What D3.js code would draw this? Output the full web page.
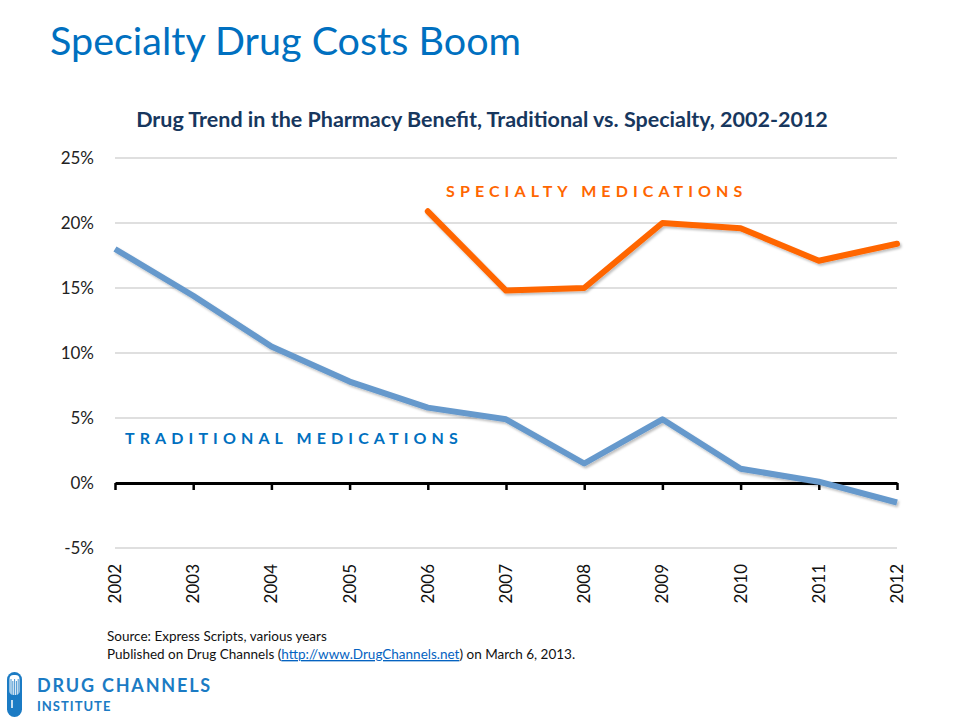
<!DOCTYPE html>
<html>
<head>
<meta charset="utf-8">
<script src="https://cdn.jsdelivr.net/npm/d3@7"></script>
<style>
  body { margin: 0; background: #fff; }
  svg { display: block; font-family: Lato, "Open Sans", sans-serif; }
</style>
</head>
<body>
<svg id="chart" width="960" height="720"></svg>
<script>
// Drug trend, traditional vs specialty (Express Scripts)
const years = [2002, 2003, 2004, 2005, 2006, 2007, 2008, 2009, 2010, 2011, 2012];
const traditional = [18.0, 14.4, 10.5, 7.8, 5.8, 4.9, 1.5, 4.9, 1.1, 0.1, -1.5];
const specialty = [null, null, null, null, 20.9, 14.8, 15.0, 20.0, 19.6, 17.1, 18.4];
const yTicks = [-5, 0, 5, 10, 15, 20, 25];

const svg = d3.select("#chart");

const x = d3.scaleLinear().domain([2002, 2012]).range([115, 897]);
const y = d3.scaleLinear().domain([-5, 25]).range([548, 158]);

// headline + chart title
svg.append("text")
  .attr("x", 50).attr("y", 55)
  .attr("fill", "#0070C0")
  .attr("font-size", "39.5px")
  .text("Specialty Drug Costs Boom");

svg.append("text")
  .attr("x", 482).attr("y", 127)
  .attr("text-anchor", "middle")
  .attr("fill", "#17375E")
  .attr("font-size", "21.5px")
  .attr("font-weight", "bold")
  .text("Drug Trend in the Pharmacy Benefit, Traditional vs. Specialty, 2002-2012");

// gridlines
svg.append("g")
  .selectAll("line")
  .data(yTicks.filter(d => d !== 0))
  .join("line")
  .attr("x1", x(2002)).attr("x2", x(2012))
  .attr("y1", d => y(d)).attr("y2", d => y(d))
  .attr("stroke", "#BFBFBF")
  .attr("stroke-width", 1);

// y labels
svg.append("g")
  .selectAll("text")
  .data(yTicks)
  .join("text")
  .attr("x", 94)
  .attr("y", d => y(d) + 6)
  .attr("text-anchor", "end")
  .attr("fill", "#222")
  .attr("font-size", "17px")
  .text(d => d + "%");

// zero axis with ticks
const xAxis = d3.axisBottom(x)
  .tickValues(years)
  .tickSize(7)
  .tickSizeOuter(0)
  .tickFormat("");
const axisG = svg.append("g")
  .attr("transform", `translate(0,${y(0)})`)
  .call(xAxis);
axisG.select(".domain").attr("stroke", "#000").attr("stroke-width", 3);
axisG.selectAll(".tick line").attr("stroke", "#000").attr("stroke-width", 2.5);

// year labels, rotated
svg.append("g")
  .selectAll("text")
  .data(years)
  .join("text")
  .attr("transform", d => `translate(${x(d) + 6},564) rotate(-90)`)
  .attr("text-anchor", "end")
  .attr("fill", "#111")
  .attr("font-size", "17px")
  .text(d => d);

// shadow filter
const defs = svg.append("defs");
const f = defs.append("filter").attr("id", "shadow")
  .attr("x", "-5%").attr("y", "-20%").attr("width", "110%").attr("height", "140%");
f.append("feDropShadow")
  .attr("dx", 1.5).attr("dy", 2).attr("stdDeviation", 1.2)
  .attr("flood-color", "#000").attr("flood-opacity", 0.25);

const line = d3.line()
  .defined(d => d[1] != null)
  .x(d => x(d[0]))
  .y(d => y(d[1]));

svg.append("path")
  .datum(years.map((yr, i) => [yr, traditional[i]]))
  .attr("d", line)
  .attr("fill", "none")
  .attr("stroke", "#6699CC")
  .attr("stroke-width", 6)
  .attr("stroke-linejoin", "round")
  .attr("filter", "url(#shadow)");

svg.append("path")
  .datum(years.map((yr, i) => [yr, specialty[i]]))
  .attr("d", line)
  .attr("fill", "none")
  .attr("stroke", "#FF6600")
  .attr("stroke-width", 6)
  .attr("stroke-linejoin", "round")
  .attr("stroke-linecap", "round")
  .attr("filter", "url(#shadow)");

// series labels
svg.append("text")
  .attr("x", 446).attr("y", 197)
  .attr("fill", "#FF6600")
  .attr("font-size", "16px")
  .attr("font-weight", "bold")
  .attr("letter-spacing", "5.1px")
  .text("SPECIALTY MEDICATIONS");

svg.append("text")
  .attr("x", 125).attr("y", 444)
  .attr("fill", "#0070C0")
  .attr("font-size", "16px")
  .attr("font-weight", "bold")
  .attr("letter-spacing", "5.1px")
  .text("TRADITIONAL MEDICATIONS");

// source notes
const note = svg.append("g").attr("font-size", "13.5px").attr("fill", "#111");
note.append("text").attr("x", 107).attr("y", 641).text("Source: Express Scripts, various years");
const t2 = note.append("text").attr("x", 107).attr("y", 659);
t2.append("tspan").text("Published on Drug Channels (");
t2.append("tspan").attr("fill", "#0563C1").attr("text-decoration", "underline")
  .text("http://www.DrugChannels.net");
t2.append("tspan").text(") on March 6, 2013.");

// logo
const logo = svg.append("g");
logo.append("rect")
  .attr("x", 7).attr("y", 672).attr("width", 15).attr("height", 45)
  .attr("rx", 7.5).attr("fill", "#1B7BC4");
logo.append("rect")
  .attr("x", 9.5).attr("y", 675).attr("width", 10).attr("height", 20)
  .attr("rx", 4).attr("fill", "#fff");
logo.append("g")
  .selectAll("line")
  .data(d3.range(5))
  .join("line")
  .attr("x1", d => 11 + d * 1.8).attr("x2", d => 11 + d * 1.8)
  .attr("y1", (d, i) => 679 + (i % 2) * 2).attr("y2", 695)
  .attr("stroke", "#1B7BC4").attr("stroke-width", 0.8);
logo.append("line")
  .attr("x1", 12).attr("x2", 12).attr("y1", 700).attr("y2", 708)
  .attr("stroke", "#fff").attr("stroke-width", 1.5);

logo.append("text")
  .attr("x", 37).attr("y", 692)
  .attr("fill", "#1B7BC4")
  .attr("font-size", "18px")
  .attr("font-weight", "bold")
  .attr("letter-spacing", "1.8px")
  .text("DRUG CHANNELS");
logo.append("text")
  .attr("x", 37).attr("y", 711)
  .attr("fill", "#1B7BC4")
  .attr("font-size", "13px")
  .attr("font-weight", "bold")
  .attr("letter-spacing", "1px")
  .text("INSTITUTE");
</script>
</body>
</html>
